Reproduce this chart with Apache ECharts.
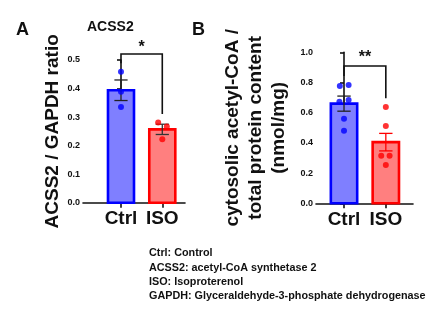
<!DOCTYPE html>
<html><head><meta charset="utf-8">
<script src="https://cdn.jsdelivr.net/npm/echarts@6/dist/echarts.min.js"></script>
<style>html,body{margin:0;padding:0;background:#fff}#c{width:440px;height:330px}</style>
</head><body><div id="c"></div>
<script>
const categories = ['Ctrl', 'ISO'];
// Panel A: ACSS2 / GAPDH ratio
const acssMean = [0.394, 0.257];
const acssSem = [0.036, 0.018];
const acssCtrlPts = [0.459, 0.389, 0.335];
const acssCtrlJit = [0, 0, 0];
const acssIsoPts = [0.281, 0.267, 0.222];
const acssIsoJit = [-0.10, 0.11, 0];
const acssSig = {label: '*', top: 0.521, left: 0.489, right: 0.311, text: 0.545};
// Panel B: cytosolic acetyl-CoA / total protein
const acoaMean = [0.660, 0.405];
const acoaSem = [0.050, 0.058];
const acoaCtrlPts = [0.777, 0.783, 0.673, 0.684, 0.560, 0.481];
const acoaCtrlJit = [-0.10, 0.11, -0.11, 0.11, 0, 0];
const acoaIsoPts = [0.638, 0.512, 0.315, 0.315, 0.254];
const acoaIsoJit = [0, 0, -0.11, 0.09, 0];
const acoaSig = {label: '**', top: 0.909, left: 0.843, right: 0.695, text: 0.965};

const notes = ['Ctrl: Control', 'ACSS2: acetyl-CoA synthetase 2', 'ISO: Isoproterenol',
  'GAPDH: Glyceraldehyde-3-phosphate dehydrogenase'];

const FONT = '"Liberation Sans", Arial, sans-serif';
const fills = ['#7f7fff', '#ff7f7f'];
const borders = ['#0000ff', '#ff0000'];

function xAxis(gi, min, max) {
  return {
    type: 'value', gridIndex: gi, min: min, max: max,
    splitLine: {show: false},
    axisLine: {show: true, onZero: false, lineStyle: {color: '#111', width: 1.6}},
    axisTick: {show: true, customValues: [0, 1], length: 5, lineStyle: {color: '#111', width: 1.6}},
    axisLabel: {customValues: [0, 1], formatter: v => categories[Math.round(v)] || '',
      fontFamily: FONT, fontWeight: 'bold', fontSize: 19, color: '#111', margin: 7}
  };
}
function yAxis(gi, max, interval, name, nameGap, lh) {
  return {
    type: 'value', gridIndex: gi, min: 0, max: max, interval: interval,
    splitLine: {show: false},
    axisLine: {show: true, lineStyle: {color: '#111', width: 1.6}},
    axisTick: {show: true, length: 4, lineStyle: {color: '#111', width: 1.6}},
    axisLabel: {formatter: v => v.toFixed(1), fontFamily: FONT, fontWeight: 'bold', fontSize: 9, color: '#111', margin: 3},
    name: name, nameLocation: 'middle', nameGap: nameGap,
    nameTextStyle: {fontFamily: FONT, fontWeight: 'bold', fontSize: 19, color: '#111', lineHeight: lh}
  };
}

function barSeries(gi, means) {
  return {
    type: 'custom', xAxisIndex: gi, yAxisIndex: gi, z: 2,
    data: means.map((m, i) => [i, m]),
    renderItem: (params, api) => {
      const i = api.value(0);
      const p0 = api.coord([i, 0]);
      const p1 = api.coord([i, api.value(1)]);
      const w = api.size([0.63, 0])[0];
      return {type: 'rect', shape: {x: p0[0] - w / 2, y: p1[1], width: w, height: p0[1] - p1[1]},
        style: {fill: fills[i], stroke: borders[i], lineWidth: 2.6}};
    }
  };
}
function errSeries(gi, means, sems, colors) {
  return {
    type: 'custom', xAxisIndex: gi, yAxisIndex: gi, z: 3,
    data: means.map((m, i) => [i, m, sems[i]]),
    renderItem: (params, api) => {
      const i = api.value(0), m = api.value(1), s = api.value(2);
      const hi = api.coord([i, m + s]), lo = api.coord([i, m - s]);
      const cw = api.size([0.16, 0])[0];
      const st = {stroke: colors[i], lineWidth: 1.3};
      return {type: 'group', children: [
        {type: 'line', shape: {x1: hi[0], y1: hi[1], x2: lo[0], y2: lo[1]}, style: st},
        {type: 'line', shape: {x1: hi[0] - cw, y1: hi[1], x2: hi[0] + cw, y2: hi[1]}, style: st},
        {type: 'line', shape: {x1: lo[0] - cw, y1: lo[1], x2: lo[0] + cw, y2: lo[1]}, style: st}
      ]};
    }
  };
}
function ptSeries(gi, pos, vals, jit, color) {
  return {
    type: 'scatter', xAxisIndex: gi, yAxisIndex: gi, z: 4, symbolSize: 6,
    itemStyle: {color: color}, silent: true,
    data: vals.map((v, k) => [pos + jit[k], v])
  };
}
function sigSeries(gi, sig) {
  return {
    type: 'custom', xAxisIndex: gi, yAxisIndex: gi, z: 5, clip: false,
    data: [[0, sig.top]],
    renderItem: (params, api) => {
      const a = api.coord([0, sig.left]), b = api.coord([0, sig.top]);
      const c = api.coord([1, sig.top]), d = api.coord([1, sig.right]);
      const t = api.coord([0.5, sig.text]);
      return {type: 'group', children: [
        {type: 'polyline', shape: {points: [a, b, c, d]}, style: {stroke: '#111', lineWidth: 1.6, fill: null}},
        {type: 'text', x: t[0], y: t[1], style: {text: sig.label, fontFamily: FONT, fontWeight: 'bold', fontSize: 16,
          fill: '#111', align: 'center', verticalAlign: 'middle'}}
      ]};
    }
  };
}

const chart = echarts.init(document.getElementById('c'), null, {renderer: 'canvas'});
chart.setOption({
  animation: false,
  backgroundColor: '#fff',
  title: [
    {text: 'A', left: 16, top: 21, padding: 0, textStyle: {fontFamily: FONT, fontWeight: 'bold', fontSize: 18, color: '#111'}},
    {text: 'ACSS2', left: 87, top: 20, padding: 0, textStyle: {fontFamily: FONT, fontWeight: 'bold', fontSize: 14, color: '#111'}},
    {text: 'B', left: 192, top: 21, padding: 0, textStyle: {fontFamily: FONT, fontWeight: 'bold', fontSize: 18, color: '#111'}},
    {text: notes.join('\n'), left: 149, top: 246, padding: 0,
      textStyle: {fontFamily: FONT, fontWeight: 'bold', fontSize: 10.8, color: '#111', lineHeight: 14.4}}
  ],
  grid: [
    {left: 83, width: 102, top: 60, height: 142.7},
    {left: 316, width: 97, top: 52.3, height: 151}
  ],
  xAxis: [xAxis(0, -0.92, 1.55), xAxis(1, -0.67, 1.65)],
  yAxis: [
    yAxis(0, 0.5, 0.1, 'ACSS2 / GAPDH ratio', 15, 22),
    yAxis(1, 1.0, 0.2, 'cytosolic acetyl-CoA /\ntotal protein content\n(nmol/mg)', 26, 23)
  ],
  series: [
    barSeries(0, acssMean),
    errSeries(0, acssMean, acssSem, ['#222', '#333']),
    ptSeries(0, 0, acssCtrlPts, acssCtrlJit, '#0000ff'),
    ptSeries(0, 1, acssIsoPts, acssIsoJit, '#ff0000'),
    sigSeries(0, acssSig),
    barSeries(1, acoaMean),
    errSeries(1, acoaMean, acoaSem, ['#222', '#ff0000']),
    ptSeries(1, 0, acoaCtrlPts, acoaCtrlJit, '#0000ff'),
    ptSeries(1, 1, acoaIsoPts, acoaIsoJit, '#ff0000'),
    sigSeries(1, acoaSig)
  ]
});
</script></body></html>
